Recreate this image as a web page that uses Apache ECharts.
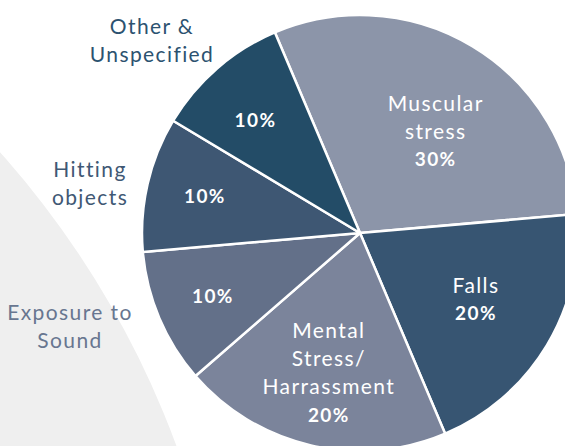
<!DOCTYPE html>
<html>
<head>
<meta charset="utf-8">
<script src="https://cdn.jsdelivr.net/npm/echarts@6/dist/echarts.min.js"></script>
<style>
html,body{margin:0;padding:0;background:#fff;}
#chart{width:565px;height:446px;}
#chart text{letter-spacing:1.4px;}
</style>
</head>
<body>
<div id="chart"></div>
<script>
// ---- data ----
var categories = ['Muscular\nstress', 'Falls', 'Mental\nStress/\nHarrassment', 'Exposure to\nSound', 'Hitting\nobjects', 'Other &\nUnspecified'];
var values = [30, 20, 20, 10, 10, 10];
var nameOutside = [false, false, false, true, true, true];

// ---- styles ----
var colors = ['#8C95A9', '#375572', '#7B849B', '#637089', '#3E5773', '#234C67'];
var outsideTextColors = ['#8C95A9', '#375572', '#7B849B', '#687690', '#3F5874', '#2C5270'];
var labelOffsets = [[18, -6], [20, 8], [-6, 30], [-44, 19], [-46, -12], [-31, -29]];
var outsidePos = [null, null, null, [70, 325], [90, 182], [152, 39]];
var FONT = 'Lato';

var total = values.reduce(function (a, b) { return a + b; }, 0);

var data = categories.map(function (c, i) {
  return {
    name: c,
    value: values[i],
    itemStyle: { color: colors[i] },
    label: { offset: labelOffsets[i] }
  };
});

var graphics = [{
  type: 'circle',
  shape: { cx: -684, cy: 763, r: 917 },
  style: { fill: '#EFEFEF' },
  z: -10,
  silent: true
}];
categories.forEach(function (c, i) {
  if (!nameOutside[i]) return;
  graphics.push({
    type: 'text',
    x: outsidePos[i][0],
    y: outsidePos[i][1],
    style: {
      text: c,
      fill: outsideTextColors[i],
      font: '21px ' + FONT,
      lineHeight: 28,
      align: 'center',
      verticalAlign: 'middle'
    }
  });
});

var chart = echarts.init(document.getElementById('chart'), null, { renderer: 'svg' });
chart.setOption({
  animation: false,
  graphic: graphics,
  series: [{
    type: 'pie',
    center: [360, 233],
    radius: [0, 218],
    startAngle: 113,
    clockwise: true,
    avoidLabelOverlap: false,
    data: data,
    itemStyle: { borderColor: '#ffffff', borderWidth: 2.5 },
    labelLine: { show: false },
    label: {
      show: true,
      position: 'inside',
      fontFamily: FONT,
      formatter: function (p) {
        var pct = '{p|' + Math.round(p.value / total * 100) + '%}';
        if (nameOutside[p.dataIndex]) return pct;
        var lines = p.name.split('\n').map(function (l) { return '{n|' + l + '}'; });
        return lines.join('\n') + '\n' + pct;
      },
      rich: {
        n: { fontFamily: FONT, fontSize: 21, color: '#ffffff', lineHeight: 28, align: 'center' },
        p: { fontFamily: FONT, fontSize: 19, fontWeight: 'bold', color: '#ffffff', lineHeight: 29, align: 'center' }
      }
    },
    emphasis: { disabled: true }
  }]
});
</script>
</body>
</html>
